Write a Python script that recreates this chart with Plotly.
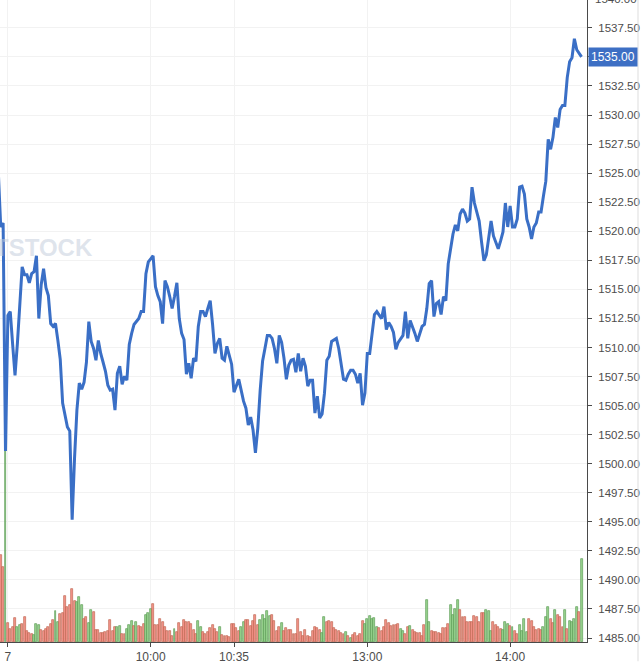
import plotly.graph_objects as go

# ---- data (one-minute bars) ----
price = [
    1525.00, 1520.37, 1520.70, 1501.10, 1512.75, 1513.09, 1510.27, 1507.61, 1510.35, 1513.95,
    1516.94, 1516.26, 1516.26, 1515.57, 1516.35, 1516.52, 1517.89, 1512.49, 1515.40, 1516.77,
    1515.15, 1514.46, 1512.06, 1511.81, 1512.06, 1510.61, 1508.98, 1505.21, 1504.19, 1503.16,
    1502.81, 1495.19, 1500.46, 1504.61, 1506.93, 1506.41, 1507.00, 1508.73, 1512.23, 1510.52,
    1509.92, 1508.90, 1510.61, 1509.49, 1508.73, 1507.95, 1506.75, 1506.33, 1506.41, 1504.61,
    1507.78, 1508.38, 1506.84, 1507.53, 1507.18, 1510.27, 1511.21, 1511.98, 1512.23, 1512.49,
    1513.09, 1513.09, 1516.35, 1517.37, 1517.63, 1517.89, 1515.23, 1514.46, 1513.95, 1512.06,
    1515.75, 1515.23, 1514.38, 1513.35, 1514.38, 1515.57, 1512.49, 1511.21, 1510.69, 1507.70,
    1508.64, 1507.35, 1509.07, 1508.81, 1511.81, 1513.09, 1513.09, 1512.66, 1513.35, 1514.03,
    1511.98, 1509.49, 1510.35, 1510.78, 1509.07, 1508.90, 1510.10, 1509.32, 1508.56, 1506.16,
    1506.67, 1507.27, 1506.33, 1505.38, 1504.78, 1503.33, 1504.01, 1502.90, 1500.93, 1503.07,
    1506.33, 1508.81, 1509.92, 1511.04, 1511.04, 1510.78, 1509.92, 1508.64, 1511.04, 1510.44,
    1509.07, 1507.27, 1508.47, 1508.90, 1508.98, 1507.87, 1509.49, 1507.95, 1509.07, 1508.38,
    1506.67, 1507.18, 1507.18, 1504.36, 1505.81, 1503.93, 1504.27, 1506.07, 1508.90, 1509.24,
    1510.52, 1510.69, 1510.78, 1509.92, 1508.73, 1507.27, 1507.18, 1507.70, 1508.04, 1508.04,
    1507.70, 1506.93, 1507.78, 1505.04, 1506.07, 1509.49, 1509.49, 1511.21, 1512.83, 1513.09,
    1512.83, 1512.49, 1513.52, 1511.55, 1512.15, 1511.81, 1511.29, 1509.84, 1510.44, 1510.78,
    1511.04, 1513.09, 1510.78, 1512.32, 1511.81, 1511.21, 1510.52, 1511.12, 1511.81, 1511.98,
    1513.35, 1515.49, 1515.75, 1512.66, 1513.78, 1513.95, 1512.83, 1514.38, 1514.03, 1517.20,
    1518.66, 1519.77, 1520.54, 1520.03, 1521.48, 1521.91, 1521.57, 1520.88, 1521.06, 1523.80,
    1522.43, 1521.66, 1520.88, 1519.09, 1517.46, 1517.97, 1519.34, 1520.88, 1519.60, 1519.00,
    1518.49, 1519.17, 1519.94, 1522.43, 1520.37, 1522.17, 1520.37, 1520.37, 1521.06, 1523.80,
    1523.88, 1523.20, 1521.06, 1520.37, 1519.34, 1520.37, 1520.71, 1521.66, 1521.66, 1523.03,
    1524.31, 1527.91, 1527.05, 1528.08, 1529.79, 1528.93, 1530.48, 1530.82, 1530.82, 1533.22,
    1534.59, 1534.93, 1536.56, 1535.62, 1535.36, 1535.00,
]

volume = [
    6000, 8700, 7500, 19300,
    1900, 1300, 1500, 2400, 1500, 1700, 1800, 2500, 1100, 900,
    800, 700, 1800, 1700, 1200, 1100, 1300, 1500, 1800, 2200,
    3100, 2000, 2800, 2900, 4600, 3500, 3700, 5300, 4100, 4000,
    4500, 3700, 2300, 2500, 1900, 3200, 3000, 1200, 1200, 900,
    900, 1000, 1100, 2200, 1100, 1500, 1500, 1600, 800, 800,
    1300, 1700, 2100, 1600, 2000, 1600, 1500, 1800, 2700, 2900,
    3300, 3800, 1700, 1700, 2300, 2000, 1500, 1100, 1100, 600,
    1300, 1000, 1900, 1500, 2200, 2000, 2000, 1800, 1200, 800,
    2100, 1500, 1000, 800, 1000, 1400, 1700, 1300, 1000, 1500,
    700, 600, 600, 500, 1800, 1800, 1400, 1100, 1500, 2000,
    2200, 2200, 1600, 2100, 2700, 1700, 2200, 2700, 2300, 3100,
    2600, 2700, 2100, 1100, 1500, 1900, 1100, 1400, 1200, 1200,
    800, 800, 2300, 1000, 600, 1200, 600, 500, 1100, 1500,
    1400,
    1200,
    900, 2500, 2000, 2100, 2000, 1400, 1200, 1100, 900, 800,
    1000, 600, 400, 700, 900, 600, 800, 2100, 1800, 2300,
    2600, 2300, 2400, 1500, 1400, 1100, 1500, 2200, 1900, 1600,
    1700, 1700, 1800, 1300, 1100, 800, 1500, 1600, 1200, 1000,
    900, 900, 600, 1700,
    4200,
    2000, 1100, 1000, 1000, 900, 800, 1400, 1400, 1800, 3700,
    2700, 3300, 4200, 3200, 2500, 2500, 2000, 2000, 2000, 2600,
    2500, 2000, 2900, 2900, 3200, 3100, 1100, 2000, 1700, 1500,
    1300, 1200, 2000, 1800, 1600, 1500, 1100, 800, 1700, 1100,
    2300, 1000, 2300, 2100, 1500, 1200, 1300, 1200, 1500, 2500,
    3500, 2300, 1900, 3200, 2700, 2500, 1500, 3200, 1300, 2100,
    2000, 2300, 3500, 3000, 8300,
]

# 1 = bar closed up (green), 0 = down (red)
vol_up = [
    0, 0, 0, 1,
    0, 0, 0, 0, 1, 1, 0, 0, 0, 0,
    0, 1, 1, 1, 0, 0, 0, 0, 0, 0,
    1, 1, 0, 0, 0, 0, 0, 0, 0, 1,
    1, 1, 0, 0, 1, 1, 0, 0, 0, 0,
    0, 0, 0, 0, 0, 0, 1, 1, 0, 0,
    1, 1, 1, 0, 1, 0, 0, 0, 1, 1,
    1, 0, 0, 0, 0, 0, 0, 0, 0, 0,
    1, 0, 0, 0, 0, 0, 0, 0, 0, 0,
    1, 1, 0, 0, 0, 0, 0, 0, 0, 1,
    0, 0, 0, 0, 0, 0, 0, 0, 1, 1,
    0, 0, 0, 0, 0, 0, 1, 1, 1, 1,
    1, 0, 0, 0, 0, 1, 0, 0, 0, 0,
    0, 0, 0, 0, 0, 0, 0, 0, 0, 0,
    0,
    0,
    1, 1, 0, 0, 0, 0, 0, 0, 0, 0,
    1, 0, 1, 0, 0, 0, 0, 0, 1, 1,
    1, 1, 1, 1, 0, 0, 0, 0, 0, 0,
    0, 0, 0, 1, 1, 0, 0, 1, 0, 0,
    0, 0, 0, 0,
    1,
    1, 0, 0, 0, 0, 0, 0, 0, 0, 1,
    1, 1, 1, 0, 0, 0, 0, 0, 0, 0,
    0, 0, 0, 0, 1, 1, 1, 0, 0, 0,
    0, 1, 1, 1, 0, 1, 0, 0, 1, 1,
    1, 1, 0, 0, 0, 0, 0, 0, 1, 1,
    1, 0, 0, 1, 0, 0, 0, 1, 0, 1,
    1, 1, 1, 0, 1,
]

tick_pos = [4, 64, 99, 155, 215]
tick_text = ["7", "10:00", "10:35", "13:00", "14:00"]
price_ticks = [1485 + 2.5 * k for k in range(22)]
last_price = 1535.00

# ---- figure ----
idx = list(range(len(price)))
FONT = "Arial, Liberation Sans, sans-serif"
LINE_BLUE = "#3a6fc6"
AX_TXT = "#4d4d4d"

bar_fill = ["rgba(135,205,125,0.85)" if u else "rgba(242,128,118,0.85)" for u in vol_up]
bar_edge = ["#5f9e58" if u else "#c06a55" for u in vol_up]

# the last-price tag covers the axis label at the same level
price_tick_text = ["" if abs(v - last_price) < 1e-9 else f"{v:.2f}" for v in price_ticks]

fig = go.Figure()
fig.add_trace(go.Bar(
    x=idx, y=volume, yaxis="y", width=0.82,
    marker=dict(color=bar_fill, line=dict(color=bar_edge, width=0.7)),
    hoverinfo="skip", showlegend=False,
))
fig.add_trace(go.Scatter(
    x=idx, y=price, yaxis="y2", mode="lines",
    line=dict(color=LINE_BLUE, width=3, shape="linear"),
    showlegend=False,
))

fig.update_layout(
    width=641, height=664,
    margin=dict(l=0, r=54, t=0, b=19),
    paper_bgcolor="white", plot_bgcolor="white",
    font=dict(family=FONT, size=11, color=AX_TXT),
    bargap=0,
    xaxis=dict(
        range=[0.69, 247.3], tickmode="array", tickvals=tick_pos, ticktext=tick_text,
        showgrid=True, gridcolor="#f2f2f2", gridwidth=1, zeroline=False,
        showline=True, linecolor="#4a4a4a", linewidth=1,
        ticks="outside", ticklen=4, tickcolor="#4a4a4a",
        tickfont=dict(family=FONT, size=12, color=AX_TXT),
    ),
    yaxis=dict(range=[0, 64500], visible=False, fixedrange=True),
    yaxis2=dict(
        overlaying="y", side="right", range=[1484.66, 1539.898],
        tickmode="array", tickvals=price_ticks, ticktext=price_tick_text,
        showgrid=True, gridcolor="#f2f2f2", gridwidth=1, zeroline=False,
        showline=True, linecolor="#4a4a4a", linewidth=1,
        ticks="outside", ticklen=4, tickcolor="#4a4a4a",
        tickfont=dict(family=FONT, size=11.5, color=AX_TXT),
        ticklabelstandoff=4,
    ),
)

# partially visible top label (1540.00 sits just above the visible area)
fig.add_annotation(
    x=1, xref="paper", y=1 + 1.2 / 645, yref="paper", text="1540.00", showarrow=False,
    xanchor="left", yanchor="middle", xshift=6,
    font=dict(family=FONT, size=11.5, color=AX_TXT),
)
# last price tag
fig.add_annotation(
    x=1, xref="paper", y=last_price, yref="y2", text=f"{last_price:.2f}", showarrow=False,
    xanchor="left", yanchor="middle", xshift=1,
    bgcolor="#3d6fc4", borderpad=2,
    font=dict(family=FONT, size=12, color="white"),
)
# watermark
fig.add_annotation(
    x=0, xref="paper", y=1 - 249 / 645, yref="paper", text="<b>TSTOCK</b>", showarrow=False,
    xanchor="left", yanchor="middle", xshift=-8,
    font=dict(family=FONT, size=24, color="rgba(196,206,220,0.55)"),
)
# faint right border of the panel
fig.add_shape(type="line", xref="paper", yref="paper", x0=1.0869, x1=1.0869, y0=-0.03, y1=1.0,
              line=dict(color="#dddddd", width=1))

fig.write_html("out.html")
